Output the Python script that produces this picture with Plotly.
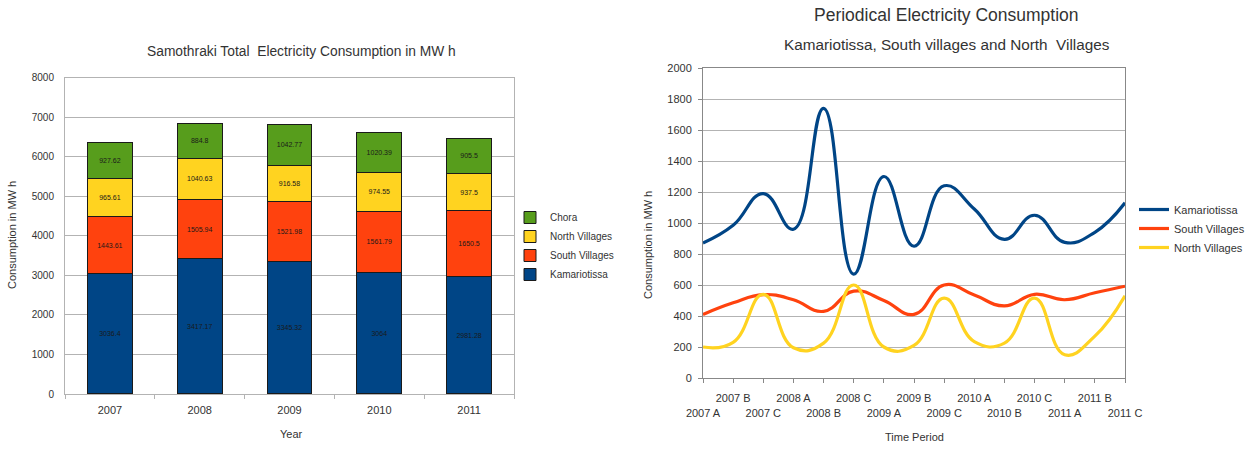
import plotly.graph_objects as go

# ---- Annual consumption by area (MWh) ----
years = ["2007", "2008", "2009", "2010", "2011"]
kamariotissa_year = [3036.40, 3417.17, 3345.32, 3064.00, 2981.28]
south_year = [1443.61, 1505.94, 1521.98, 1561.79, 1650.50]
north_year = [965.61, 1040.63, 916.58, 974.55, 937.50]
chora_year = [927.62, 884.80, 1042.77, 1020.39, 905.50]

# ---- Periodical consumption (MWh) ----
periods = ["2007 A", "2007 B", "2007 C", "2008 A", "2008 B", "2008 C",
           "2009 A", "2009 B", "2009 C", "2010 A", "2010 B", "2010 C",
           "2011 A", "2011 B", "2011 C"]
kamariotissa_period = [871, 985, 1190, 960, 1740, 670, 1300, 850, 1240, 1090,
                       895, 1050, 875, 940, 1130]
south_period = [410, 485, 538, 505, 430, 560, 500, 410, 600, 535,
                465, 540, 505, 550, 592]
north_period = [200, 230, 540, 195, 225, 600, 200, 210, 515, 235,
                225, 515, 150, 270, 530]

BLUE, RED, YELLOW, GREEN = "#004586", "#ff420e", "#ffd320", "#579d1c"
FONT = "Liberation Sans, Arial, sans-serif"
GRID = "#b3b3b3"
W, H = 1255, 450


def px(x):
    return x / W


def py(y):
    return 1 - y / H


fig = go.Figure()

# stacked bars, bottom to top
bar_series = [
    ("Kamariotissa", kamariotissa_year, BLUE),
    ("South Villages", south_year, RED),
    ("North Villages", north_year, YELLOW),
    ("Chora", chora_year, GREEN),
]
for name, vals, col in bar_series:
    fig.add_trace(go.Bar(
        x=years, y=vals, name=name, xaxis="x", yaxis="y",
        marker=dict(color=col, line=dict(color="#1a1a1a", width=1)),
        text=[f"{v:g}" for v in vals], textposition="inside",
        insidetextanchor="middle", textangle=0, constraintext="none",
        textfont=dict(size=7, color="#1a1a1a", family=FONT),
        width=0.5, legend="legend",
    ))

# periodical lines
line_series = [
    ("Kamariotissa", kamariotissa_period, BLUE),
    ("South Villages", south_period, RED),
    ("North Villages", north_period, YELLOW),
]
for name, vals, col in line_series:
    fig.add_trace(go.Scatter(
        x=periods, y=vals, name=name, xaxis="x2", yaxis="y2",
        mode="lines", line=dict(color=col, width=3.2, shape="spline", smoothing=1.3),
        legend="legend2",
    ))

# two-row staggered period labels
period_ticktext = [p if i % 2 else "<br>" + p for i, p in enumerate(periods)]

tickfont = dict(family=FONT, size=11, color="#333333")

fig.update_layout(
    width=W, height=H, margin=dict(l=0, r=0, t=0, b=0, autoexpand=False),
    paper_bgcolor="white", plot_bgcolor="white",
    barmode="stack", bargap=0.5,
    font=dict(family=FONT, color="#333333"),
    xaxis=dict(domain=[px(65), px(514)], anchor="y", type="category",
               tickfont=tickfont, showgrid=False, ticks="outside",
               tickson="boundaries", ticklen=4, tickcolor=GRID,
               showline=True, linecolor=GRID, mirror=True,
               ticklabelstandoff=6, automargin=False, tickangle=0),
    yaxis=dict(domain=[py(394), py(77.7)], anchor="x", range=[0, 8000],
               dtick=1000, tickfont=dict(family=FONT, size=10, color="#333333"),
               gridcolor=GRID, gridwidth=1, showline=True, linecolor=GRID,
               mirror=True, zeroline=False, ticks="", ticklabelstandoff=8,
               automargin=False),
    xaxis2=dict(domain=[px(703), px(1125)], anchor="y2", type="category",
                range=[0, len(periods) - 1], tickmode="array",
                tickvals=periods, ticktext=period_ticktext,
                tickfont=tickfont, showgrid=False, ticks="outside",
                ticklen=4, tickcolor="#888888", showline=True,
                linecolor="#888888", mirror=True, ticklabelstandoff=6,
                tickangle=0, automargin=False),
    yaxis2=dict(domain=[py(378), py(68)], anchor="x2", range=[0, 2000],
                dtick=200, tickfont=tickfont, gridcolor=GRID,
                showline=True, linecolor="#888888", mirror=True,
                zeroline=False, ticks="outside", ticklen=4,
                tickcolor="#888888", ticklabelstandoff=4, automargin=False),
    legend=dict(x=px(510), y=py(203), xanchor="left", yanchor="top",
                traceorder="reversed", font=dict(family=FONT, size=10, color="#333333"),
                bgcolor="rgba(0,0,0,0)", itemwidth=30, tracegroupgap=0),
    legend2=dict(x=px(1134), y=py(195), xanchor="left", yanchor="top",
                 font=dict(family=FONT, size=11, color="#333333"),
                 bgcolor="rgba(0,0,0,0)", itemwidth=30),
    showlegend=True,
)

annotations = [
    dict(text="Samothraki Total  Electricity Consumption in MW h", x=px(301), y=py(52),
         font=dict(size=13.8)),
    dict(text="Consumption in MW h", x=px(12), y=py(235), textangle=-90,
         font=dict(size=11)),
    dict(text="Year", x=px(291), y=py(434), font=dict(size=11)),
    dict(text="Periodical Electricity Consumption", x=px(946), y=py(15),
         font=dict(size=17.5)),
    dict(text="Kamariotissa, South villages and North  Villages", x=px(947), y=py(45),
         font=dict(size=15.3)),
    dict(text="Consumption in MW h", x=px(648), y=py(245), textangle=-90,
         font=dict(size=11)),
    dict(text="Time Period", x=px(914), y=py(437), font=dict(size=11)),
]
for a in annotations:
    a.update(xref="paper", yref="paper", showarrow=False,
             xanchor="center", yanchor="middle")
    a["font"].update(family=FONT, color="#333333")
fig.update_layout(annotations=annotations)

fig.write_html("out.html")
